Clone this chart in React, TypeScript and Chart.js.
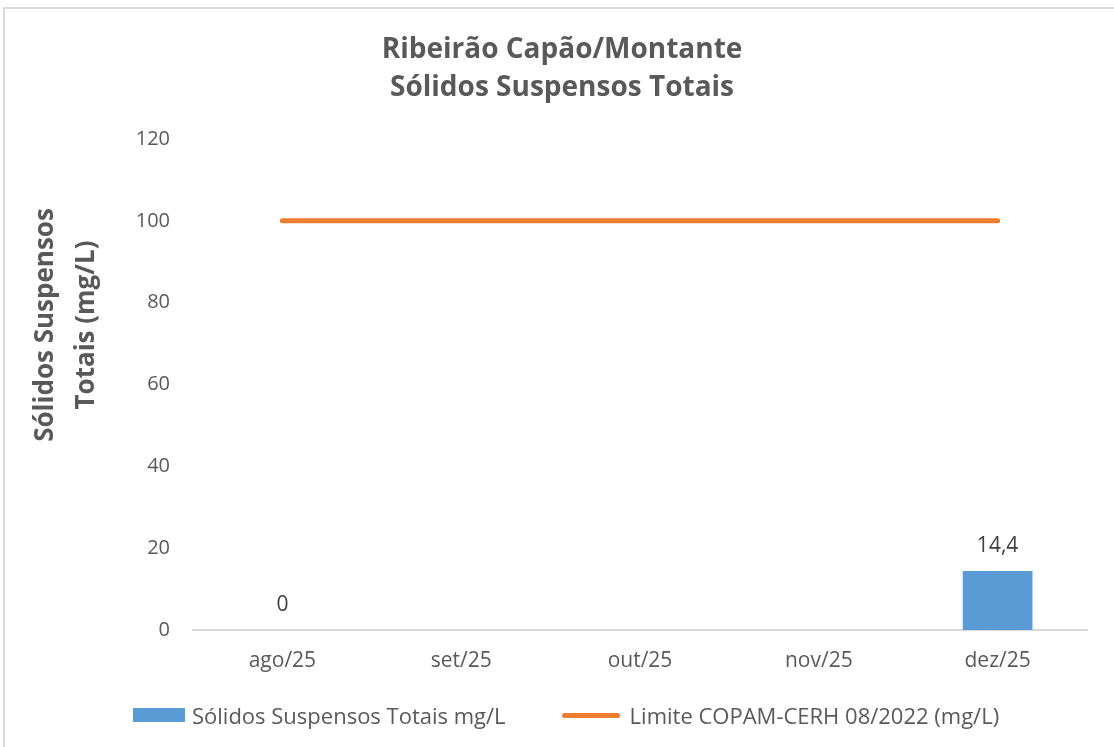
import React, { useEffect, useRef } from "react";
import { Chart, registerables } from "chart.js";

Chart.register(...registerables);

const categories = ["ago/25", "set/25", "out/25", "nov/25", "dez/25"];
const solidosValues: (number | null)[] = [0, null, null, null, 14.4];
const limiteValues: number[] = [100, 100, 100, 100, 100];
const yTickStep = 20;
const yMin = 0;
const yMax = 120;
const titleLines = ["Ribeirão Capão/Montante", "Sólidos Suspensos Totais"];
const yAxisTitle = ["Sólidos Suspensos", "Totais (mg/L)"];
const seriesNames = ["Sólidos Suspensos Totais mg/L", "Limite COPAM-CERH 08/2022 (mg/L)"];

const BLUE = "#5B9BD5";
const ORANGE = "#ED7D31";
const TEXT = "#595959";
const FONT = "'Open Sans', 'DejaVu Sans', sans-serif";

const dataLabelPlugin = {
  id: "dataLabels",
  afterDatasetsDraw(chart: any) {
    const { ctx } = chart;
    const meta = chart.getDatasetMeta(0);
    ctx.save();
    ctx.font = `21px ${FONT}`;
    ctx.fillStyle = "#404040";
    ctx.textAlign = "center";
    ctx.textBaseline = "middle";
    meta.data.forEach((el: any, i: number) => {
      const v = solidosValues[i];
      if (v === null || v === undefined) return;
      const label = String(v).replace(".", ",");
      ctx.fillText(label, el.x, el.y - 25);
    });
    ctx.restore();
  },
};

const yTitlePlugin = {
  id: "yTitle",
  afterDraw(chart: any) {
    const { ctx, chartArea } = chart;
    const cy = chartArea.top + 186;
    ctx.save();
    ctx.font = `bold 26px ${FONT}`;
    ctx.fillStyle = TEXT;
    ctx.textAlign = "center";
    ctx.textBaseline = "middle";
    yAxisTitle.forEach((line, i) => {
      ctx.save();
      ctx.translate(46 + i * 41, cy);
      ctx.rotate(-Math.PI / 2);
      ctx.fillText(line, 0, 0);
      ctx.restore();
    });
    ctx.restore();
  },
};

export default function App() {
  const ref = useRef<HTMLCanvasElement | null>(null);

  useEffect(() => {
    if (!ref.current) return;
    const chart = new Chart(ref.current, {
      type: "bar",
      data: {
        labels: categories,
        datasets: [
          {
            type: "bar",
            label: seriesNames[0],
            data: solidosValues,
            backgroundColor: BLUE,
            barPercentage: 0.39,
            categoryPercentage: 1,
            order: 2,
          } as any,
          {
            type: "line",
            label: seriesNames[1],
            data: limiteValues,
            borderColor: ORANGE,
            backgroundColor: ORANGE,
            borderWidth: 5,
            borderCapStyle: "round",
            pointRadius: 0,
            order: 1,
          } as any,
        ],
      },
      options: {
        responsive: false,
        animation: false,
        layout: { padding: { left: 37, right: 27, top: 0, bottom: 62 } },
        plugins: {
          legend: { display: false },
          tooltip: { enabled: false },
          title: {
            display: true,
            text: titleLines,
            color: TEXT,
            font: { family: FONT, size: 28, weight: "bold", lineHeight: 38 / 28 },
            padding: { top: 31, bottom: 32 },
          },
        },
        scales: {
          x: {
            grid: { display: false, drawTicks: false },
            border: { display: true, color: "#d9d9d9", width: 2 },
            ticks: { color: TEXT, font: { family: FONT, size: 21 }, padding: 18 },
            afterFit: (s: any) => {
              s.height = 55;
            },
          },
          y: {
            min: yMin,
            max: yMax,
            grid: { display: false, drawTicks: false },
            border: { display: false },
            ticks: { stepSize: yTickStep, color: TEXT, font: { family: FONT, size: 20 }, padding: 23 },
            title: { display: false },
            afterFit: (s: any) => {
              s.width = 156;
            },
          },
        },
      },
      plugins: [dataLabelPlugin, yTitlePlugin],
    });
    return () => chart.destroy();
  }, []);

  return (
    <div style={{ position: "absolute", left: 0, top: 0, width: 1114, height: 747, background: "#fff", overflow: "hidden" }}>
      <div
        style={{
          position: "absolute",
          left: 3,
          top: 7,
          width: 1130,
          height: 760,
          border: "2px solid #d9d9d9",
          boxSizing: "border-box",
        }}
      />
      <canvas ref={ref} width={1114} height={747} style={{ position: "absolute", left: 0, top: 0 }} />
      <div
        style={{
          position: "absolute",
          left: 133,
          top: 701,
          display: "flex",
          alignItems: "center",
          height: 28,
          fontFamily: FONT,
          fontSize: 22,
          color: TEXT,
          whiteSpace: "nowrap",
        }}
      >
        <span style={{ display: "inline-block", width: 52, height: 14, background: BLUE, marginRight: 7 }} />
        <span>{seriesNames[0]}</span>
        <span
          style={{
            display: "inline-block",
            width: 58,
            height: 5,
            borderRadius: 3,
            background: ORANGE,
            marginLeft: 56,
            marginRight: 10,
          }}
        />
        <span>{seriesNames[1]}</span>
      </div>
    </div>
  );
}
